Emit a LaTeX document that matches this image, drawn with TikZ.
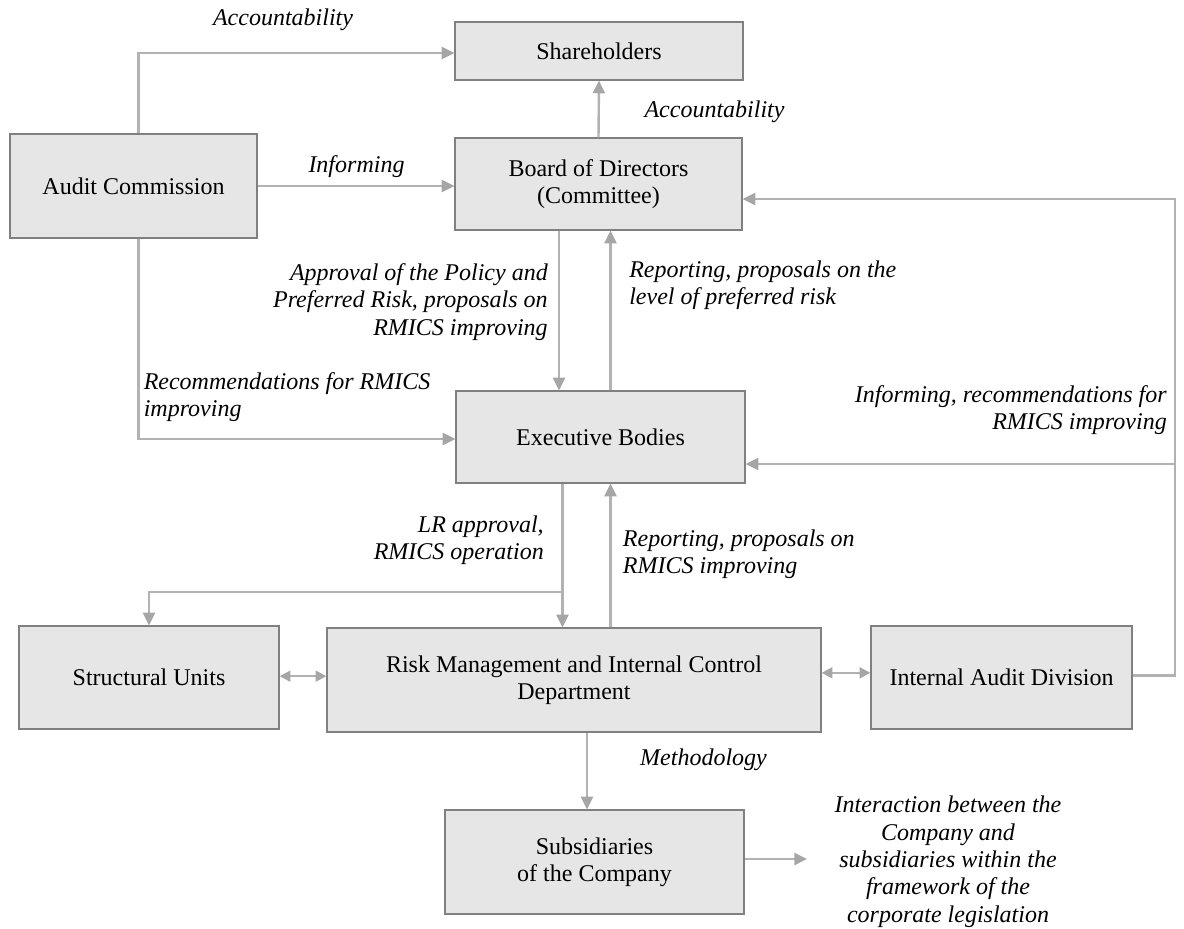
\documentclass[tikz,border=0pt]{standalone}
\usepackage{fontspec}
\setmainfont{Liberation Serif}
\usetikzlibrary{arrows.meta,shadows}
\definecolor{boxfill}{HTML}{E6E6E6}
\definecolor{boxline}{HTML}{808080}
\definecolor{conn}{HTML}{B2B2B2}
\definecolor{tipc}{HTML}{A6A6A6}
\begin{document}
\begin{tikzpicture}[x=0.75pt,y=-0.75pt,
  font=\fontsize{18}{20.5}\selectfont,
  box/.style={draw=boxline, line width=0.9pt, fill=boxfill, align=center, inner sep=2pt,
    drop shadow={shadow xshift=1pt, shadow yshift=-1pt, opacity=0.25}},
  lab/.style={font=\fontsize{18}{20.5}\selectfont\itshape, inner sep=0pt},
  conn/.style={draw=conn, line width=1.8pt},
  arr/.style={conn, -{Triangle[length=9.5pt,width=9pt,color=tipc]}},
  biarr/.style={conn, {Triangle[length=8pt,width=8pt,color=tipc]}-{Triangle[length=8pt,width=8pt,color=tipc]}}]
\path[use as bounding box] (0,0) rectangle (1184,928);

% boxes
\node[box, minimum width=216pt, minimum height=43.5pt] (sh) at (599,51) {Shareholders};
\node[box, minimum width=215.25pt, minimum height=69pt] (bd) at (598.5,184) {Board of Directors\\(Committee)};
\node[box, minimum width=185.25pt, minimum height=78pt] (ac) at (133.5,186) {Audit Commission};
\node[box, minimum width=216.75pt, minimum height=69pt] (ex) at (600.5,437) {Executive Bodies};
\node[box, minimum width=195pt, minimum height=77.25pt] (su) at (149,677.5) {Structural Units};
\node[box, minimum width=370.5pt, minimum height=78pt] (rm) at (574,680) {Risk Management and Internal Control\\Department};
\node[box, minimum width=195.75pt, minimum height=77.25pt] (ia) at (1001.5,677.5) {Internal Audit Division};
\node[box, minimum width=224.25pt, minimum height=78pt] (sb) at (594.5,862) {Subsidiaries\\of the Company};

% helper coordinates
\coordinate (xa) at (559,0);
\coordinate (xb) at (610.5,0);
\coordinate (xc) at (587,0);
\coordinate (r1) at (1175,199);
\coordinate (r2) at (1175,464);
\coordinate (j) at (562.5,592);
\coordinate (ie) at (807,0);

% connectors
\draw[arr] ([xshift=3.75pt]ac.north) |- ([yshift=-1.5pt]sh.west);
\draw[arr] (ac.east) -- (ac.east -| bd.west);
\draw[arr] (bd.north) -- (sh.south);
\draw[arr] (xa |- bd.south) -- (xa |- ex.north);
\draw[arr] (xb |- ex.north) -- (xb |- bd.south);
\draw[arr] ([xshift=3.75pt]ac.south) |- ([yshift=-1.5pt]ex.west);
\draw[arr] ([yshift=1.5pt]ia.east) -| (r1) -- (r1 -| bd.east);
\draw[arr] (r2) -- (r2 -| ex.east);
\draw[arr] (j |- ex.south) -- (j |- rm.north);
\draw[arr] (j) -| (su.north);
\draw[arr] (xb |- rm.north) -- (xb |- ex.south);
\draw[biarr] ([yshift=1pt]su.east) -- ([yshift=1pt]su.east -| rm.west);
\draw[biarr] ([yshift=3.5pt]ia.west -| rm.east) -- ([yshift=3.5pt]ia.west);
\draw[arr] (xc |- rm.south) -- (xc |- sb.north);
\draw[arr] ([yshift=2.25pt]sb.east) -- ([yshift=2.25pt]sb.east -| ie);

% labels
\node[lab] (l1) at (283,20) {Accountability};
\node[lab] (l2) at (356.5,167) {Informing};
\node[lab] (l3) at (714.5,112) {Accountability};
\node[lab, anchor=east, align=right] (l4) at (548,302) {Approval of the Policy and\\Preferred Risk, proposals on\\RMICS improving};
\node[lab, anchor=west, align=left] (l5) at (629,285.5) {Reporting, proposals on the\\level of preferred risk};
\node[lab, anchor=west, align=left] (l6) at (143.5,397) {Recommendations for RMICS\\improving};
\node[lab, anchor=east, align=right] (l7) at (1167,410) {Informing, recommendations for\\RMICS improving};
\node[lab, anchor=east, align=right] (l8) at (544,540) {LR approval,\\RMICS operation};
\node[lab, anchor=west, align=left] (l9) at (622.7,554.5) {Reporting, proposals on\\RMICS improving};
\node[lab] (l10) at (703.5,760) {Methodology};
\node[lab, align=center] (l11) at (948,861.7) {Interaction between the\\Company and\\subsidiaries within the\\framework of the\\corporate legislation};
\end{tikzpicture}
\end{document}
